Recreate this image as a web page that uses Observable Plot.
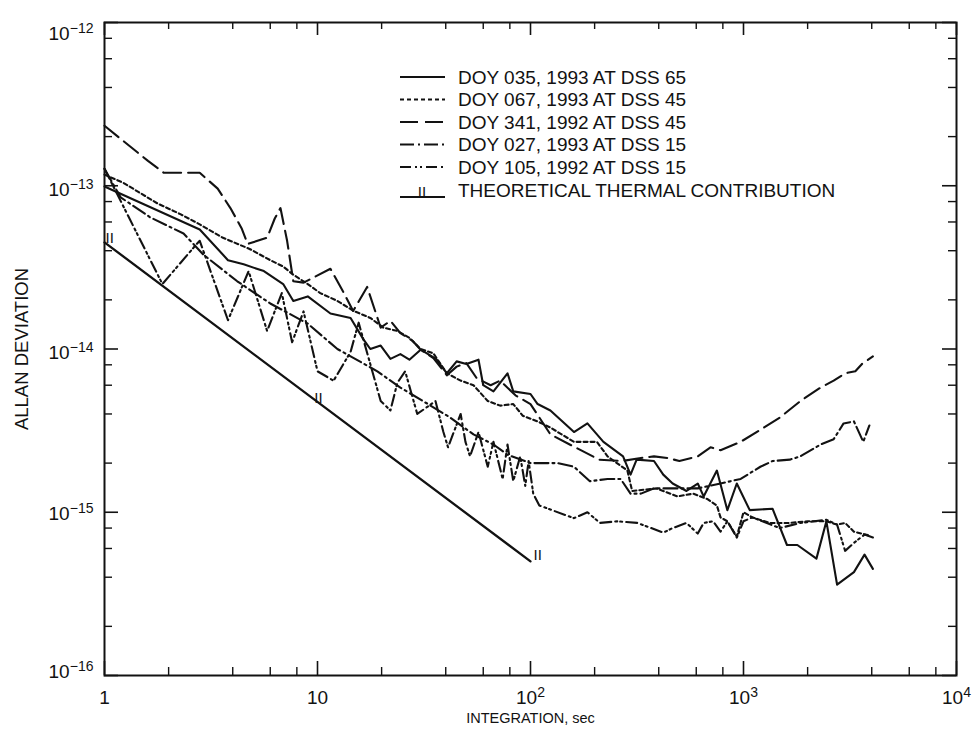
<!DOCTYPE html>
<html>
<head>
<meta charset="utf-8">
<script src="https://cdn.jsdelivr.net/npm/d3@7"></script>
<script src="https://cdn.jsdelivr.net/npm/@observablehq/plot@0.6"></script>
<style>
html, body { margin: 0; padding: 0; background: #fff; }
#chart { width: 976px; height: 738px; }
</style>
</head>
<body>
<div id="chart"></div>
<script>
// ---------------- data ----------------
const seriesNames = [
  "DOY 035, 1993 AT DSS 65",
  "DOY 067, 1993 AT DSS 45",
  "DOY 341, 1992 AT DSS 45",
  "DOY 027, 1993 AT DSS 15",
  "DOY 105, 1992 AT DSS 15"
];
const theoryName = "THEORETICAL THERMAL CONTRIBUTION";

// DOY 035, 1993 at DSS 65 (solid)
const tau035 = [1, 2.8, 3.8, 4.5, 5.6, 6.9, 7.7, 9, 11.5, 14.3, 16.4, 17.7, 19.8, 22, 24.5, 27, 30.5, 36, 40.5, 45, 50, 57, 60, 67, 78, 83, 100, 108, 124, 160, 185, 220, 272, 295, 315, 380, 420, 465, 540, 610, 650, 750, 840, 930, 1070, 1370, 1600, 1790, 2200, 2450, 2750, 3300, 3700, 4050];
const adev035 = [9.9e-14, 5.4e-14, 3.5e-14, 3.3e-14, 3.0e-14, 2.5e-14, 1.97e-14, 2.1e-14, 1.65e-14, 1.55e-14, 1.15e-14, 1.0e-14, 1.05e-14, 8.7e-15, 9.3e-15, 8.6e-15, 9.9e-15, 8.7e-15, 7.1e-15, 8.4e-15, 8.1e-15, 8.6e-15, 6.0e-15, 5.5e-15, 7.1e-15, 5.5e-15, 5.3e-15, 4.6e-15, 4.2e-15, 3.1e-15, 3.5e-15, 2.7e-15, 2.2e-15, 1.7e-15, 2.1e-15, 2.06e-15, 1.7e-15, 1.5e-15, 1.35e-15, 1.5e-15, 1.25e-15, 1.8e-15, 1.03e-15, 1.5e-15, 1.03e-15, 1.05e-15, 6.3e-16, 6.3e-16, 5.2e-16, 8.8e-16, 3.6e-16, 4.3e-16, 5.5e-16, 4.5e-16];

// DOY 067, 1993 at DSS 45 (short dashes)
const tau067 = [1, 1.23, 1.77, 2.27, 2.8, 3.6, 4.8, 6.0, 6.9, 7.7, 9.0, 10.3, 12.4, 14.8, 17.7, 20.4, 23.7, 27, 30.5, 35, 40.5, 47, 54, 63, 72, 83, 92, 108, 124, 160, 205, 230, 285, 300, 390, 490, 580, 680, 750, 780, 840, 930, 1000, 1100, 1330, 1650, 2000, 2450, 2750, 3000, 3300, 3900];
const adev067 = [1.17e-13, 1.04e-13, 7.8e-14, 6.7e-14, 5.8e-14, 4.8e-14, 4.1e-14, 3.5e-14, 3.2e-14, 2.85e-14, 2.5e-14, 2.2e-14, 1.97e-14, 1.71e-14, 1.55e-14, 1.35e-14, 1.29e-14, 1.17e-14, 1.0e-14, 9.4e-15, 7.1e-15, 6.4e-15, 6.0e-15, 4.8e-15, 4.5e-15, 4.6e-15, 3.9e-15, 3.6e-15, 3.3e-15, 2.7e-15, 2.7e-15, 2.2e-15, 1.8e-15, 1.35e-15, 1.4e-15, 1.25e-15, 1.3e-15, 1.2e-15, 1.1e-15, 9.3e-16, 8.8e-16, 7.1e-16, 1.0e-15, 9.3e-16, 8.6e-16, 8.6e-16, 8.8e-16, 8.8e-16, 8.4e-16, 8.6e-16, 7.6e-16, 7.2e-16];

// DOY 341, 1992 at DSS 45 (long dashes)
const tau341 = [1, 1.6, 1.9, 2.8, 3.4, 3.9, 4.4, 4.7, 5.8, 6.3, 6.7, 7.2, 7.7, 8.6, 11.5, 13.3, 14.7, 17.1, 19.8, 22, 24.5, 28, 30.5, 35, 40.5, 45, 50, 56, 65, 72, 85, 100, 124, 162, 210, 270, 330, 380, 440, 500, 610, 700, 780, 970, 1200, 1480, 1850, 2300, 2650, 3000, 3350, 3600, 4050];
const adev341 = [2.33e-13, 1.42e-13, 1.2e-13, 1.2e-13, 9.6e-14, 7.3e-14, 5.5e-14, 4.4e-14, 4.8e-14, 6.3e-14, 7.3e-14, 4.6e-14, 2.6e-14, 2.55e-14, 3.1e-14, 2.2e-14, 1.71e-14, 2.4e-14, 1.35e-14, 1.49e-14, 1.25e-14, 1.12e-14, 9.9e-15, 8.8e-15, 6.9e-15, 7.8e-15, 8.2e-15, 6.6e-15, 6.0e-15, 6.4e-15, 5.2e-15, 4.6e-15, 3.0e-15, 2.5e-15, 2.1e-15, 2.06e-15, 2.15e-15, 2.2e-15, 2.15e-15, 2.06e-15, 2.2e-15, 2.5e-15, 2.4e-15, 2.7e-15, 3.2e-15, 3.8e-15, 4.8e-15, 5.8e-15, 6.4e-15, 7.1e-15, 7.3e-15, 8.1e-15, 9.0e-15];

// DOY 027, 1993 at DSS 15 (dash-dot)
const tau027 = [1, 1.19, 1.64, 2.35, 2.9, 4.2, 6.0, 9.0, 12.4, 14.8, 19.1, 24.5, 33, 42, 54, 67, 78, 100, 134, 160, 190, 230, 265, 295, 330, 380, 500, 610, 780, 970, 1200, 1370, 1650, 1850, 2300, 2650, 2950, 3300, 3650, 3900];
const adev027 = [1.27e-13, 8.5e-14, 6.4e-14, 5.1e-14, 3.8e-14, 2.6e-14, 1.9e-14, 1.43e-14, 1.0e-14, 8.8e-15, 7.3e-15, 5.8e-15, 4.6e-15, 3.8e-15, 3.0e-15, 2.6e-15, 2.25e-15, 2.0e-15, 2.0e-15, 1.9e-15, 1.55e-15, 1.6e-15, 1.6e-15, 1.3e-15, 1.3e-15, 1.4e-15, 1.4e-15, 1.4e-15, 1.5e-15, 1.6e-15, 1.9e-15, 2.06e-15, 2.1e-15, 2.2e-15, 2.6e-15, 2.8e-15, 3.5e-15, 3.6e-15, 2.7e-15, 3.4e-15];

// DOY 105, 1992 at DSS 15 (dash-dot-dot)
const tau105 = [1, 1.87, 2.67, 2.8, 3.8, 4.75, 5.8, 6.8, 7.6, 8.6, 10, 11.9, 14.3, 15.6, 19.8, 22, 23.7, 25.8, 29.4, 35.8, 39, 41, 47, 49.5, 52, 57, 63, 67, 74, 78, 83, 89.5, 94.5, 98, 103, 110, 160, 185, 212, 255, 318, 420, 465, 540, 610, 650, 720, 780, 840, 930, 1000, 1100, 1480, 1850, 2150, 2450, 2750, 3000, 3350, 3700, 4050];
const adev105 = [1.27e-13, 2.5e-14, 4.3e-14, 4.6e-14, 1.5e-14, 3.0e-14, 1.29e-14, 2.2e-14, 1.1e-14, 1.7e-14, 7.3e-15, 6.4e-15, 9.6e-15, 1.45e-14, 4.8e-15, 4.2e-15, 6.2e-15, 7.3e-15, 4.0e-15, 4.8e-15, 3.1e-15, 2.5e-15, 4.0e-15, 2.7e-15, 2.2e-15, 3.1e-15, 1.9e-15, 2.7e-15, 1.6e-15, 2.6e-15, 1.55e-15, 2.2e-15, 1.45e-15, 2.06e-15, 1.3e-15, 1.1e-15, 9.2e-16, 1.0e-15, 8.6e-16, 8.8e-16, 8.6e-16, 7.5e-16, 8.0e-16, 8.6e-16, 7.4e-16, 8.6e-16, 8.8e-16, 7.6e-16, 8.8e-16, 7.0e-16, 8.8e-16, 9.3e-16, 8.0e-16, 8.6e-16, 8.8e-16, 9.0e-16, 8.4e-16, 5.8e-16, 6.6e-16, 7.3e-16, 7.0e-16];

// theoretical thermal contribution
const tauTheory = [1, 100];
const adevTheory = [4.5e-14, 5.0e-16];
const tauTheoryMarks = [1, 10, 100];
const adevTheoryMarks = [4.5e-14, 4.75e-15, 5.0e-16];

// axis ticks
const xMajor = [1, 10, 100, 1000, 10000];
const xMinor = [2, 4, 6, 8, 20, 40, 60, 80, 200, 400, 600, 800, 2000, 4000, 6000, 8000];
const yMajor = [1e-16, 1e-15, 1e-14, 1e-13, 1e-12];
const yMinor = [2e-16, 4e-16, 6e-16, 8e-16, 2e-15, 4e-15, 6e-15, 8e-15, 2e-14, 4e-14, 6e-14, 8e-14, 2e-13, 4e-13, 6e-13, 8e-13];
const xTitle = "INTEGRATION, sec";
const yTitle = "ALLAN DEVIATION";

// ---------------- layout / styles ----------------
const W = 976, H = 738;
const mL = 104, mR = 20, mT = 22, mB = 63;
const innerW = W - mL - mR, innerH = H - mT - mB;
const ink = "#121212";
const font = "'Liberation Sans', Arial, Helvetica, sans-serif";
const dashes = ["none", "4,3", "18,7", "14,4,2,4", "11,4,2,3,2,4"];

const seriesData = [
  d3.zip(tau035, adev035),
  d3.zip(tau067, adev067),
  d3.zip(tau341, adev341),
  d3.zip(tau027, adev027),
  d3.zip(tau105, adev105)
];

const lineMarks = seriesData.map((data, i) =>
  Plot.line(data, {x: d => d[0], y: d => d[1], stroke: ink, strokeWidth: 2.1,
    strokeDasharray: dashes[i], strokeLinejoin: "round"}));

const theoryData = d3.zip(tauTheory, adevTheory);
const marksData = d3.zip(tauTheoryMarks, adevTheoryMarks);

const fmtX = d => d === 1 ? "1" : d === 10 ? "10" : "10^" + Math.round(Math.log10(d));
const fmtY = d => "10^" + Math.round(Math.log10(d));

const chart = Plot.plot({
  width: W, height: H,
  marginLeft: mL, marginRight: mR, marginTop: mT, marginBottom: mB,
  style: {fontFamily: font, background: "#fff", color: ink},
  x: {type: "log", domain: [1, 1e4]},
  y: {type: "log", domain: [1e-16, 1e-12]},
  marks: [
    // tick marks pointing inward on all four sides
    Plot.tickX(xMajor, {x: d => d, insetTop: innerH - 14, stroke: ink, strokeWidth: 1.6}),
    Plot.tickX(xMinor, {x: d => d, insetTop: innerH - 8, stroke: ink, strokeWidth: 1.4}),
    Plot.tickX(xMajor, {x: d => d, insetBottom: innerH - 13, stroke: ink, strokeWidth: 1.6}),
    Plot.tickX(xMinor, {x: d => d, insetBottom: innerH - 7, stroke: ink, strokeWidth: 1.4}),
    Plot.tickY(yMajor, {y: d => d, insetRight: innerW - 14, stroke: ink, strokeWidth: 1.6}),
    Plot.tickY(yMinor, {y: d => d, insetRight: innerW - 8, stroke: ink, strokeWidth: 1.4}),
    Plot.tickY(yMajor, {y: d => d, insetLeft: innerW - 14, stroke: ink, strokeWidth: 1.6}),
    Plot.tickY(yMinor, {y: d => d, insetLeft: innerW - 8, stroke: ink, strokeWidth: 1.4}),
    Plot.axisX({ticks: xMajor, tickSize: 0, tickPadding: 15, fontSize: 19, tickFormat: fmtX, label: null}),
    Plot.axisY({ticks: yMajor, tickSize: 0, tickPadding: 11, fontSize: 19, tickFormat: fmtY, label: null}),
    Plot.text([xTitle], {frameAnchor: "bottom", textAnchor: "middle", lineAnchor: "middle", dy: 43, text: d => d, fontSize: 14.5, fill: ink}),
    Plot.text([yTitle], {frameAnchor: "left", textAnchor: "middle", lineAnchor: "middle", dx: -82, rotate: -90, text: d => d, fontSize: 18.5, fill: ink}),
    // theoretical line and its markers
    Plot.line(theoryData, {x: d => d[0], y: d => d[1], stroke: ink, strokeWidth: 2.3}),
    Plot.text(marksData.slice(0, 1), {x: d => d[0], y: d => d[1], text: () => "II", textAnchor: "start", lineAnchor: "bottom", dx: 1, dy: 1, fontSize: 15, fill: ink}),
    Plot.text(marksData.slice(1, 2), {x: d => d[0], y: d => d[1], text: () => "II", lineAnchor: "bottom", dx: 1, dy: 1, fontSize: 15, fill: ink}),
    Plot.text(marksData.slice(2, 3), {x: d => d[0], y: d => d[1], text: () => "II", textAnchor: "start", lineAnchor: "middle", dx: 3, dy: -6, fontSize: 15, fill: ink}),
    ...lineMarks,
    Plot.frame({stroke: ink, strokeWidth: 2})
  ]
});

document.getElementById("chart").appendChild(chart);

// superscript exponents in tick labels
const yOffsets = {"-12": 11, "-13": 4, "-14": 4, "-15": 2, "-16": -4};
d3.select(chart).selectAll("text").each(function() {
  const t = this.textContent;
  if (!t.includes("^")) return;
  const [base, exp] = t.split("^");
  const el = d3.select(this);
  el.text(null);
  const b = el.append("tspan").text(base);
  if (exp in yOffsets) b.attr("dy", yOffsets[exp]);
  el.append("tspan").attr("dy", "-0.5em").attr("font-size", "0.74em").text(exp.replace("-", "\u2212"));
});

// legend inside the plot frame
const svg = d3.select(chart);
const lg = svg.append("g").attr("font-family", font)
  .attr("font-size", 19).attr("fill", ink).attr("text-anchor", "start");
const rowY = [77, 99.5, 122, 144.5, 167];
seriesNames.forEach((name, i) => {
  lg.append("line").attr("x1", 400).attr("x2", 445).attr("y1", rowY[i]).attr("y2", rowY[i])
    .attr("stroke", ink).attr("stroke-width", 2).attr("stroke-dasharray", dashes[i]);
  lg.append("text").attr("x", 458).attr("y", rowY[i]).attr("dy", "0.35em").text(name);
});
lg.append("line").attr("x1", 400).attr("x2", 445).attr("y1", 197).attr("y2", 197)
  .attr("stroke", ink).attr("stroke-width", 2);
lg.append("text").attr("x", 422).attr("y", 197).attr("text-anchor", "middle").attr("font-size", 15).text("II");
lg.append("text").attr("x", 458).attr("y", 190).attr("dy", "0.35em").text(theoryName);
</script>
</body>
</html>
